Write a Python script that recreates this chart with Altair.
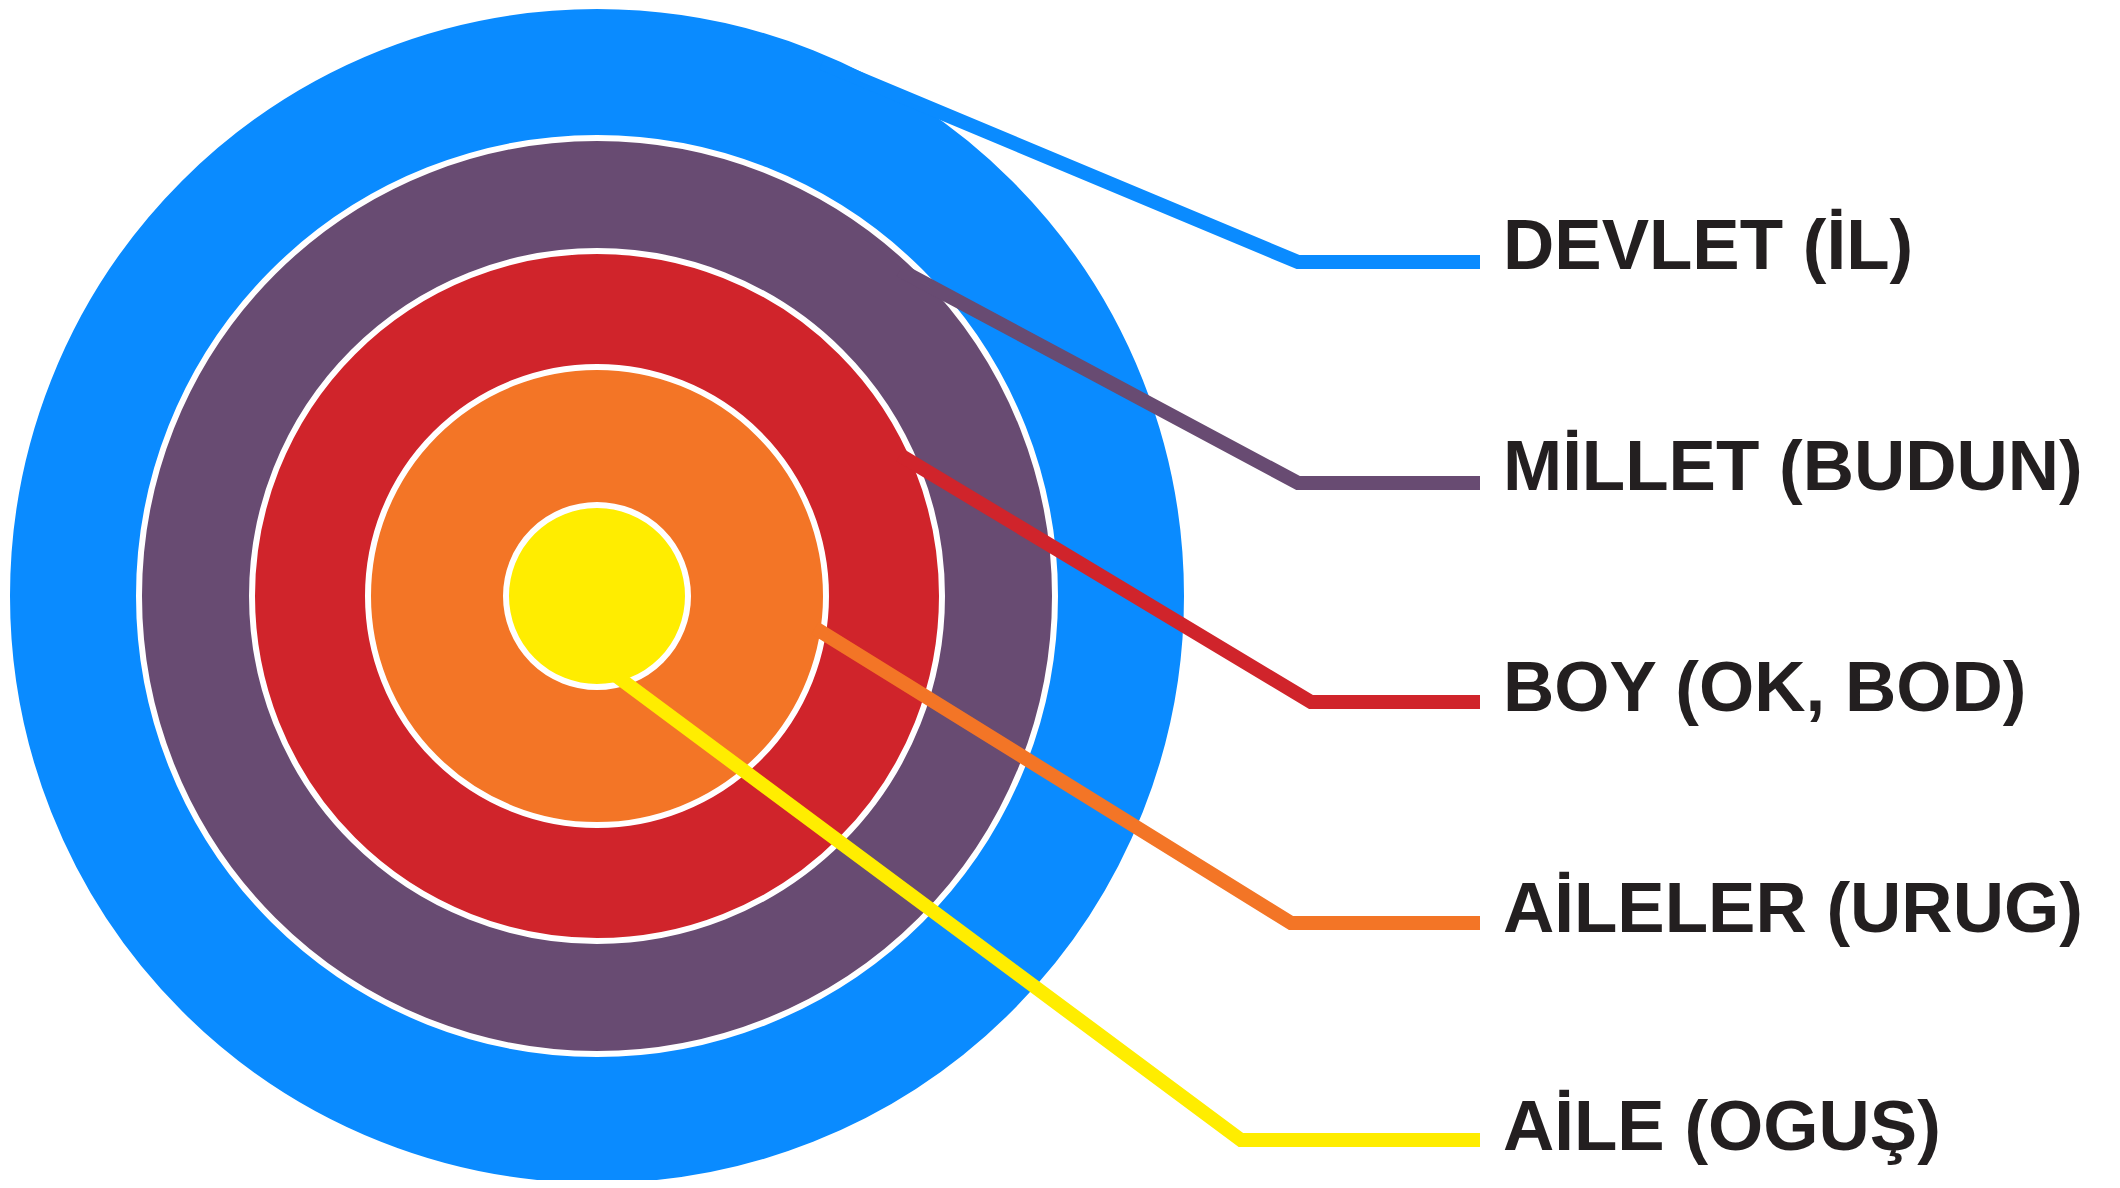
import altair as alt
import pandas as pd

# ---- data (pixel units of the 2120x1188 picture) ----
labels = ["DEVLET (İL)", "MİLLET (BUDUN)", "BOY (OK, BOD)", "AİLELER (URUG)", "AİLE (OGUŞ)"]
colors = ["#0A8BFF", "#684B72", "#D0242B", "#F37526", "#FFED00"]
radii = [590, 458, 345, 229, 91]
center_x = 597
center_y = 596

line_start_x = [822, 900, 900, 815, 615]
line_start_y = [63, 270, 455, 628, 675]
elbow_x = [1298, 1298, 1311, 1291, 1241]
elbow_y = [262, 483, 702, 923, 1140]
line_end_x = [1480, 1480, 1480, 1480, 1480]

text_x = [1503, 1503, 1503, 1503, 1503]
text_y = [269, 490, 711, 932, 1150]

W, H = 2104, 1172
OX, OY = 8, 8

circles = pd.DataFrame({
    "label": labels,
    "x": [center_x] * 5,
    "y": [center_y] * 5,
    # Vega symbol size = area of the bounding square: (2r)^2
    "size": [(2 * r) ** 2 for r in radii],
    "rank": list(range(5)),
})

rows = []
for i, lab in enumerate(labels):
    rows.append({"label": lab, "seq": 0, "x": line_start_x[i], "y": line_start_y[i]})
    rows.append({"label": lab, "seq": 1, "x": elbow_x[i], "y": elbow_y[i]})
    rows.append({"label": lab, "seq": 2, "x": line_end_x[i], "y": elbow_y[i]})
lines = pd.DataFrame(rows)

texts = pd.DataFrame({"label": labels, "x": text_x, "y": text_y})

xs = alt.Scale(domain=[OX, OX + W], range=[0, W], nice=False, zero=False)
ys = alt.Scale(domain=[OY, OY + H], range=[0, H], nice=False, zero=False)
cs = alt.Scale(domain=labels, range=colors)

X = lambda: alt.X("x:Q", scale=xs, axis=None)
Y = lambda: alt.Y("y:Q", scale=ys, axis=None)

rings = alt.Chart(circles).mark_circle(
    opacity=1, stroke="white", strokeWidth=6
).encode(
    x=X(), y=Y(),
    size=alt.Size("size:Q", scale=None, legend=None),
    color=alt.Color("label:N", scale=cs, legend=None),
    order=alt.Order("rank:Q"),
)

leaders = alt.Chart(lines).mark_line(
    strokeWidth=14, strokeCap="butt", strokeJoin="miter"
).encode(
    x=X(), y=Y(),
    color=alt.Color("label:N", scale=cs, legend=None),
    detail="label:N",
    order=alt.Order("seq:Q"),
)

names = alt.Chart(texts).mark_text(
    align="left", baseline="alphabetic", font="Liberation Sans",
    fontWeight="bold", fontSize=71, color="#231F20"
).encode(
    x=X(), y=Y(), text="label:N",
)

chart = alt.layer(rings, leaders, names).properties(
    width=W, height=H, padding=0, background="white",
    autosize=alt.AutoSizeParams(type="none")
).configure_view(stroke=None, strokeWidth=0)

chart.save("out.html", embed_options={"renderer": "svg", "actions": False})
